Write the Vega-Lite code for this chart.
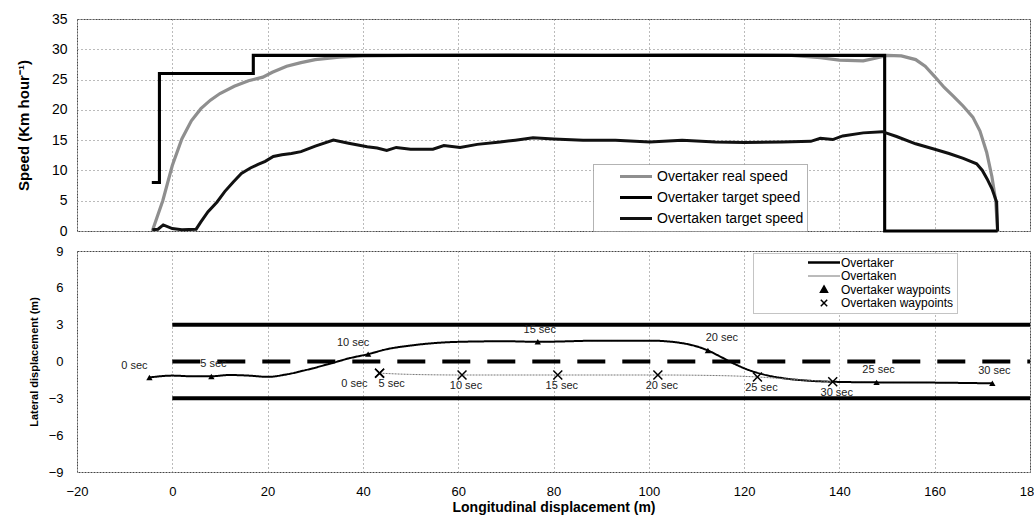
{
  "$schema": "https://vega.github.io/schema/vega-lite/v6.json",
  "background": "white",
  "padding": {"left": 15, "top": 11, "right": 0, "bottom": 0},
  "autosize": {"type": "pad"},
  "spacing": 20,
  "bounds": "flush",
  "config": {
    "font": "Liberation Sans",
    "view": {"stroke": "#444", "strokeDash": [2, 1], "strokeWidth": 1},
    "axis": {"domain": false, "ticks": false, "grid": true, "gridColor": "#777", "gridDash": [1, 3], "gridWidth": 1, "labelColor": "#000", "titleColor": "#000", "labelFont": "Liberation Sans", "titleFont": "Liberation Sans", "labelOverlap": false},
    "legend": {"labelFont": "Liberation Sans", "labelColor": "#000"}
  },
  "resolve": {"scale": {"x": "independent", "y": "independent", "color": "independent", "strokeWidth": "independent"}, "legend": {"color": "independent"}},
  "datasets": {
    "speed": [
      {"series": "Overtaker real speed", "i": 1, "x": -4.2, "v": 0},
      {"series": "Overtaker real speed", "i": 2, "x": -2, "v": 5},
      {"series": "Overtaker real speed", "i": 3, "x": 0, "v": 10.8},
      {"series": "Overtaker real speed", "i": 4, "x": 2, "v": 15.2},
      {"series": "Overtaker real speed", "i": 5, "x": 4, "v": 18.2},
      {"series": "Overtaker real speed", "i": 6, "x": 6, "v": 20.2},
      {"series": "Overtaker real speed", "i": 7, "x": 8, "v": 21.6},
      {"series": "Overtaker real speed", "i": 8, "x": 10, "v": 22.7},
      {"series": "Overtaker real speed", "i": 9, "x": 13, "v": 23.9},
      {"series": "Overtaker real speed", "i": 10, "x": 16, "v": 24.8},
      {"series": "Overtaker real speed", "i": 11, "x": 19, "v": 25.4},
      {"series": "Overtaker real speed", "i": 12, "x": 21, "v": 26.2},
      {"series": "Overtaker real speed", "i": 13, "x": 24, "v": 27.2},
      {"series": "Overtaker real speed", "i": 14, "x": 27, "v": 27.8},
      {"series": "Overtaker real speed", "i": 15, "x": 30, "v": 28.3},
      {"series": "Overtaker real speed", "i": 16, "x": 35, "v": 28.7},
      {"series": "Overtaker real speed", "i": 17, "x": 40, "v": 28.9},
      {"series": "Overtaker real speed", "i": 18, "x": 50, "v": 29},
      {"series": "Overtaker real speed", "i": 19, "x": 70, "v": 29.1},
      {"series": "Overtaker real speed", "i": 20, "x": 90, "v": 29},
      {"series": "Overtaker real speed", "i": 21, "x": 110, "v": 29.1},
      {"series": "Overtaker real speed", "i": 22, "x": 130, "v": 29},
      {"series": "Overtaker real speed", "i": 23, "x": 136, "v": 28.6},
      {"series": "Overtaker real speed", "i": 24, "x": 140, "v": 28.2},
      {"series": "Overtaker real speed", "i": 25, "x": 145, "v": 28.1},
      {"series": "Overtaker real speed", "i": 26, "x": 148, "v": 28.6},
      {"series": "Overtaker real speed", "i": 27, "x": 150, "v": 29},
      {"series": "Overtaker real speed", "i": 28, "x": 153, "v": 28.9},
      {"series": "Overtaker real speed", "i": 29, "x": 156, "v": 28.3},
      {"series": "Overtaker real speed", "i": 30, "x": 158, "v": 27.2},
      {"series": "Overtaker real speed", "i": 31, "x": 160, "v": 25.5},
      {"series": "Overtaker real speed", "i": 32, "x": 162, "v": 23.7},
      {"series": "Overtaker real speed", "i": 33, "x": 164, "v": 22.2},
      {"series": "Overtaker real speed", "i": 34, "x": 166, "v": 20.6},
      {"series": "Overtaker real speed", "i": 35, "x": 168, "v": 18.8},
      {"series": "Overtaker real speed", "i": 36, "x": 169.5, "v": 16.5},
      {"series": "Overtaker real speed", "i": 37, "x": 170.9, "v": 13},
      {"series": "Overtaker real speed", "i": 38, "x": 172, "v": 9},
      {"series": "Overtaker real speed", "i": 39, "x": 172.8, "v": 5},
      {"series": "Overtaker real speed", "i": 40, "x": 173.2, "v": 0},
      {"series": "Overtaker target speed", "i": 1, "x": -4.3, "v": 8},
      {"series": "Overtaker target speed", "i": 2, "x": -2.7, "v": 8},
      {"series": "Overtaker target speed", "i": 3, "x": -2.7, "v": 26},
      {"series": "Overtaker target speed", "i": 4, "x": 17, "v": 26},
      {"series": "Overtaker target speed", "i": 5, "x": 17, "v": 29},
      {"series": "Overtaker target speed", "i": 6, "x": 149.5, "v": 29},
      {"series": "Overtaker target speed", "i": 7, "x": 149.5, "v": 0},
      {"series": "Overtaker target speed", "i": 8, "x": 173.2, "v": 0},
      {"series": "Overtaken target speed", "i": 1, "x": -4.2, "v": 0.2},
      {"series": "Overtaken target speed", "i": 2, "x": -3, "v": 0.3},
      {"series": "Overtaken target speed", "i": 3, "x": -1.9, "v": 1},
      {"series": "Overtaken target speed", "i": 4, "x": 0, "v": 0.4},
      {"series": "Overtaken target speed", "i": 5, "x": 2, "v": 0.2},
      {"series": "Overtaken target speed", "i": 6, "x": 5, "v": 0.3},
      {"series": "Overtaken target speed", "i": 7, "x": 6, "v": 1.5},
      {"series": "Overtaken target speed", "i": 8, "x": 7.5, "v": 3.2},
      {"series": "Overtaken target speed", "i": 9, "x": 9.4, "v": 4.8},
      {"series": "Overtaken target speed", "i": 10, "x": 11, "v": 6.5},
      {"series": "Overtaken target speed", "i": 11, "x": 12.8, "v": 8.1},
      {"series": "Overtaken target speed", "i": 12, "x": 14.5, "v": 9.5},
      {"series": "Overtaken target speed", "i": 13, "x": 16.4, "v": 10.4},
      {"series": "Overtaken target speed", "i": 14, "x": 18, "v": 11},
      {"series": "Overtaken target speed", "i": 15, "x": 19.5, "v": 11.5},
      {"series": "Overtaken target speed", "i": 16, "x": 21.2, "v": 12.3},
      {"series": "Overtaken target speed", "i": 17, "x": 23, "v": 12.6},
      {"series": "Overtaken target speed", "i": 18, "x": 25, "v": 12.8},
      {"series": "Overtaken target speed", "i": 19, "x": 27, "v": 13.1},
      {"series": "Overtaken target speed", "i": 20, "x": 30, "v": 14},
      {"series": "Overtaken target speed", "i": 21, "x": 33.8, "v": 15},
      {"series": "Overtaken target speed", "i": 22, "x": 37, "v": 14.5},
      {"series": "Overtaken target speed", "i": 23, "x": 40.9, "v": 13.9},
      {"series": "Overtaken target speed", "i": 24, "x": 43, "v": 13.7},
      {"series": "Overtaken target speed", "i": 25, "x": 45, "v": 13.3},
      {"series": "Overtaken target speed", "i": 26, "x": 47, "v": 13.8},
      {"series": "Overtaken target speed", "i": 27, "x": 50, "v": 13.5},
      {"series": "Overtaken target speed", "i": 28, "x": 54.7, "v": 13.5},
      {"series": "Overtaken target speed", "i": 29, "x": 57, "v": 14.1},
      {"series": "Overtaken target speed", "i": 30, "x": 60.4, "v": 13.8},
      {"series": "Overtaken target speed", "i": 31, "x": 64, "v": 14.3},
      {"series": "Overtaken target speed", "i": 32, "x": 68.8, "v": 14.7},
      {"series": "Overtaken target speed", "i": 33, "x": 72, "v": 15},
      {"series": "Overtaken target speed", "i": 34, "x": 75.7, "v": 15.4},
      {"series": "Overtaken target speed", "i": 35, "x": 80, "v": 15.2},
      {"series": "Overtaken target speed", "i": 36, "x": 86.2, "v": 15},
      {"series": "Overtaken target speed", "i": 37, "x": 93, "v": 15},
      {"series": "Overtaken target speed", "i": 38, "x": 100.2, "v": 14.7},
      {"series": "Overtaken target speed", "i": 39, "x": 107, "v": 15},
      {"series": "Overtaken target speed", "i": 40, "x": 114, "v": 14.7},
      {"series": "Overtaken target speed", "i": 41, "x": 120, "v": 14.6},
      {"series": "Overtaken target speed", "i": 42, "x": 128, "v": 14.7},
      {"series": "Overtaken target speed", "i": 43, "x": 134, "v": 14.8},
      {"series": "Overtaken target speed", "i": 44, "x": 136, "v": 15.3},
      {"series": "Overtaken target speed", "i": 45, "x": 138.6, "v": 15.1},
      {"series": "Overtaken target speed", "i": 46, "x": 140.7, "v": 15.7},
      {"series": "Overtaken target speed", "i": 47, "x": 145, "v": 16.2},
      {"series": "Overtaken target speed", "i": 48, "x": 149, "v": 16.4},
      {"series": "Overtaken target speed", "i": 49, "x": 152, "v": 15.6},
      {"series": "Overtaken target speed", "i": 50, "x": 156, "v": 14.4},
      {"series": "Overtaken target speed", "i": 51, "x": 160, "v": 13.5},
      {"series": "Overtaken target speed", "i": 52, "x": 163, "v": 12.8},
      {"series": "Overtaken target speed", "i": 53, "x": 166, "v": 12},
      {"series": "Overtaken target speed", "i": 54, "x": 168.8, "v": 11.1},
      {"series": "Overtaken target speed", "i": 55, "x": 170, "v": 10},
      {"series": "Overtaken target speed", "i": 56, "x": 171, "v": 8.6},
      {"series": "Overtaken target speed", "i": 57, "x": 172, "v": 7},
      {"series": "Overtaken target speed", "i": 58, "x": 173, "v": 4.8},
      {"series": "Overtaken target speed", "i": 59, "x": 173.2, "v": 0}
    ],
    "lanes": [
      {"lane": "upper", "x": 0, "y": 3},
      {"lane": "upper", "x": 180, "y": 3},
      {"lane": "lower", "x": 0, "y": -3},
      {"lane": "lower", "x": 180, "y": -3}
    ],
    "centre": [
      {"x": 0, "y": 0},
      {"x": 180, "y": 0}
    ],
    "paths": [
      {"series": "Overtaker", "x": -4.8, "y": -1.3},
      {"series": "Overtaker", "x": 0, "y": -1.15},
      {"series": "Overtaker", "x": 4, "y": -1.2},
      {"series": "Overtaker", "x": 8.2, "y": -1.2},
      {"series": "Overtaker", "x": 12, "y": -1.1},
      {"series": "Overtaker", "x": 16, "y": -1.15},
      {"series": "Overtaker", "x": 20, "y": -1.25},
      {"series": "Overtaker", "x": 24, "y": -1.05},
      {"series": "Overtaker", "x": 28, "y": -0.7},
      {"series": "Overtaker", "x": 33.8, "y": -0.1},
      {"series": "Overtaker", "x": 37, "y": 0.25},
      {"series": "Overtaker", "x": 41.1, "y": 0.6},
      {"series": "Overtaker", "x": 45, "y": 1.0},
      {"series": "Overtaker", "x": 50, "y": 1.3},
      {"series": "Overtaker", "x": 55, "y": 1.5},
      {"series": "Overtaker", "x": 60, "y": 1.6},
      {"series": "Overtaker", "x": 70, "y": 1.65},
      {"series": "Overtaker", "x": 76.7, "y": 1.6},
      {"series": "Overtaker", "x": 90, "y": 1.7},
      {"series": "Overtaker", "x": 100.2, "y": 1.7},
      {"series": "Overtaker", "x": 106, "y": 1.55},
      {"series": "Overtaker", "x": 110.7, "y": 1.15},
      {"series": "Overtaker", "x": 112.4, "y": 0.9},
      {"series": "Overtaker", "x": 115, "y": 0.4},
      {"series": "Overtaker", "x": 118, "y": -0.2},
      {"series": "Overtaker", "x": 121, "y": -0.7},
      {"series": "Overtaker", "x": 124, "y": -1.05},
      {"series": "Overtaker", "x": 128, "y": -1.35},
      {"series": "Overtaker", "x": 133, "y": -1.55},
      {"series": "Overtaker", "x": 138.6, "y": -1.65},
      {"series": "Overtaker", "x": 147.8, "y": -1.7},
      {"series": "Overtaker", "x": 160, "y": -1.72},
      {"series": "Overtaker", "x": 172.1, "y": -1.78},
      {"series": "Overtaken", "x": 43.5, "y": -0.95},
      {"series": "Overtaken", "x": 50, "y": -1.05},
      {"series": "Overtaken", "x": 60.8, "y": -1.1},
      {"series": "Overtaken", "x": 80.9, "y": -1.1},
      {"series": "Overtaken", "x": 101.9, "y": -1.1},
      {"series": "Overtaken", "x": 115, "y": -1.15},
      {"series": "Overtaken", "x": 122.8, "y": -1.26},
      {"series": "Overtaken", "x": 130, "y": -1.45},
      {"series": "Overtaken", "x": 138.6, "y": -1.65}
    ],
    "waypoints": [
      {"vehicle": "Overtaker", "t": 0, "x": -4.8, "y": -1.3, "label": "0 sec"},
      {"vehicle": "Overtaker", "t": 5, "x": 8.2, "y": -1.22, "label": "5 sec"},
      {"vehicle": "Overtaker", "t": 10, "x": 41.1, "y": 0.6, "label": "10 sec"},
      {"vehicle": "Overtaker", "t": 15, "x": 76.7, "y": 1.6, "label": "15 sec"},
      {"vehicle": "Overtaker", "t": 20, "x": 112.4, "y": 0.9, "label": "20 sec"},
      {"vehicle": "Overtaker", "t": 25, "x": 147.8, "y": -1.7, "label": "25 sec"},
      {"vehicle": "Overtaker", "t": 30, "x": 172.1, "y": -1.78, "label": "30 sec"},
      {"vehicle": "Overtaken", "t": 0, "x": 43.5, "y": -0.95, "label": "0 sec"},
      {"vehicle": "Overtaken", "t": 5, "x": 43.5, "y": -0.95, "label": "5 sec"},
      {"vehicle": "Overtaken", "t": 10, "x": 60.8, "y": -1.1, "label": "10 sec"},
      {"vehicle": "Overtaken", "t": 15, "x": 80.9, "y": -1.1, "label": "15 sec"},
      {"vehicle": "Overtaken", "t": 20, "x": 101.9, "y": -1.1, "label": "20 sec"},
      {"vehicle": "Overtaken", "t": 25, "x": 122.8, "y": -1.26, "label": "25 sec"},
      {"vehicle": "Overtaken", "t": 30, "x": 138.6, "y": -1.65, "label": "30 sec"}
    ]
  },
  "vconcat": [
    {
      "width": 953,
      "height": 212,
      "data": {"name": "speed"},
      "mark": {"type": "line", "strokeCap": "butt", "strokeJoin": "miter"},
      "encoding": {
        "x": {"field": "x", "type": "quantitative", "scale": {"domain": [-20, 180], "nice": false, "zero": false}, "axis": {"values": [-20, 0, 20, 40, 60, 80, 100, 120, 140, 160, 180], "labels": false, "title": null}},
        "y": {"field": "v", "type": "quantitative", "scale": {"domain": [0, 35], "nice": false}, "axis": {"values": [0, 5, 10, 15, 20, 25, 30, 35], "title": "Speed (Km hour⁻¹)", "titleFontSize": 15, "titleFontWeight": "bold", "labelFontSize": 14, "labelPadding": 10, "titlePadding": 20, "labelOverlap": false}},
        "color": {"field": "series", "type": "nominal", "scale": {"domain": ["Overtaker real speed", "Overtaker target speed", "Overtaken target speed"], "range": ["#8f8f8f", "#000000", "#111111"]},
          "legend": {"orient": "none", "legendX": 516, "legendY": 145, "title": null, "symbolType": "stroke", "symbolSize": 1024, "labelFontSize": 14, "padding": 3, "symbolOffset": 22, "labelOffset": 3, "rowPadding": 2, "clipHeight": 19, "fillColor": "white", "strokeColor": "#666",
            "encode": {"legend": {"update": {"strokeDash": {"value": [1, 1]}}}, "symbols": {"update": {"strokeWidth": {"signal": "datum.value === 'Overtaken target speed' ? 1.5 : 3"}}}}}},
        "strokeWidth": {"field": "series", "type": "nominal", "scale": {"domain": ["Overtaker real speed", "Overtaker target speed", "Overtaken target speed"], "range": [3.2, 3, 1.5]}, "legend": null},
        "order": {"field": "i", "type": "quantitative"}
      }
    },
    {
      "width": 953,
      "height": 221,
      "encoding": {
        "x": {"field": "x", "type": "quantitative", "scale": {"domain": [-20, 180], "nice": false, "zero": false}, "axis": {"values": [-20, 0, 20, 40, 60, 80, 100, 120, 140, 160, 180], "title": "Longitudinal displacement (m)", "titleFontSize": 14, "titleFontWeight": "bold", "labelFontSize": 13, "labelPadding": 13, "titlePadding": 2, "labelFlush": false, "labelOverlap": false}},
        "y": {"field": "y", "type": "quantitative", "scale": {"domain": [-9, 9], "nice": false}, "axis": {"values": [-9, -6, -3, 0, 3, 6, 9], "grid": false, "title": "Lateral displacement (m)", "titleFontSize": 11, "titleFontWeight": "bold", "labelFontSize": 13, "labelPadding": 14, "titlePadding": 9, "labelOverlap": false, "labelBound": false}}
      },
      "layer": [
        {
          "data": {"name": "lanes"},
          "mark": {"type": "line", "color": "#000", "strokeWidth": 4, "strokeCap": "butt"},
          "encoding": {
            "detail": {"field": "lane", "type": "nominal"}
          }
        },
        {
          "data": {"name": "centre"},
          "mark": {"type": "line", "color": "#000", "strokeWidth": 4, "strokeDash": [28, 17], "strokeCap": "butt"},
          "encoding": {}
        },
        {
          "data": {"name": "paths"},
          "mark": {"type": "line", "strokeCap": "butt", "interpolate": "monotone"},
          "encoding": {
            "color": {"field": "series", "type": "nominal", "scale": {"domain": ["Overtaker", "Overtaken", "Overtaker waypoints", "Overtaken waypoints"], "range": ["#000000", "#777777", "#000000", "#000000"]},
              "legend": {"orient": "none", "legendX": 676, "legendY": 2, "title": null, "symbolType": "stroke", "symbolSize": 1024, "labelFontSize": 12, "padding": 3, "symbolOffset": 62, "labelOffset": 11, "rowPadding": 0.5, "clipHeight": 13, "fillColor": "white", "strokeColor": "#888",
                "encode": {
                  "legend": {"update": {"strokeDash": {"value": [1, 1]}}},
                  "symbols": {"update": {
                    "shape": {"signal": "datum.value === 'Overtaker waypoints' ? 'M0,-0.22L0.22,0.17L-0.22,0.17Z' : datum.value === 'Overtaken waypoints' ? 'M-0.2,-0.2L0.2,0.2M0.2,-0.2L-0.2,0.2' : 'stroke'"},
                    "fill": {"signal": "datum.value === 'Overtaker waypoints' ? '#000' : 'transparent'"},
                    "stroke": {"signal": "datum.value === 'Overtaken' ? '#777' : '#000'"},
                    "strokeWidth": {"signal": "datum.value === 'Overtaker' ? 2.5 : datum.value === 'Overtaken' ? 1 : 1.5"}
                  }}
                }}},
            "strokeWidth": {"field": "series", "type": "nominal", "scale": {"domain": ["Overtaker", "Overtaken"], "range": [2, 1]}, "legend": null},
            "strokeDash": {"field": "series", "type": "nominal", "scale": {"domain": ["Overtaker", "Overtaken"], "range": [[1, 0], [2, 1]]}, "legend": null}
          }
        },
        {
          "data": {"name": "waypoints"},
          "transform": [{"filter": "datum.vehicle === 'Overtaker'"}],
          "mark": {"type": "point", "shape": "triangle-up", "filled": true, "color": "#000", "size": 40, "opacity": 1}
        },
        {
          "data": {"name": "waypoints"},
          "transform": [{"filter": "datum.vehicle === 'Overtaken'"}],
          "mark": {"type": "point", "shape": "M-1,-1L1,1M1,-1L-1,1", "filled": false, "color": "#000", "strokeWidth": 1.5, "size": 80, "opacity": 1}
        },
        {
          "data": {"name": "waypoints"},
          "transform": [{"filter": "datum.vehicle === 'Overtaker' && (datum.t === 0 || datum.t === 10)"}],
          "mark": {"type": "text", "fontSize": 11, "color": "#222", "dx": -15, "dy": -11, "baseline": "middle"},
          "encoding": {"text": {"field": "label"}}
        },
        {
          "data": {"name": "waypoints"},
          "transform": [{"filter": "datum.vehicle === 'Overtaker' && datum.t === 20"}],
          "mark": {"type": "text", "fontSize": 11, "color": "#222", "dx": 14, "dy": -12, "baseline": "middle"},
          "encoding": {"text": {"field": "label"}}
        },
        {
          "data": {"name": "waypoints"},
          "transform": [{"filter": "datum.vehicle === 'Overtaker' && datum.t !== 0 && datum.t !== 10 && datum.t !== 20"}],
          "mark": {"type": "text", "fontSize": 11, "color": "#222", "dx": 2, "dy": -12, "baseline": "middle"},
          "encoding": {"text": {"field": "label"}}
        },
        {
          "data": {"name": "waypoints"},
          "transform": [{"filter": "datum.vehicle === 'Overtaken' && datum.t === 0"}],
          "mark": {"type": "text", "fontSize": 11, "color": "#222", "align": "right", "dx": -12, "dy": 11, "baseline": "middle"},
          "encoding": {"text": {"field": "label"}}
        },
        {
          "data": {"name": "waypoints"},
          "transform": [{"filter": "datum.vehicle === 'Overtaken' && datum.t === 5"}],
          "mark": {"type": "text", "fontSize": 11, "color": "#222", "align": "left", "dx": -1, "dy": 11, "baseline": "middle"},
          "encoding": {"text": {"field": "label"}}
        },
        {
          "data": {"name": "waypoints"},
          "transform": [{"filter": "datum.vehicle === 'Overtaken' && datum.t >= 10"}],
          "mark": {"type": "text", "fontSize": 11, "color": "#222", "dx": 4, "dy": 11, "baseline": "middle"},
          "encoding": {"text": {"field": "label"}}
        }
      ]
    }
  ]
}
